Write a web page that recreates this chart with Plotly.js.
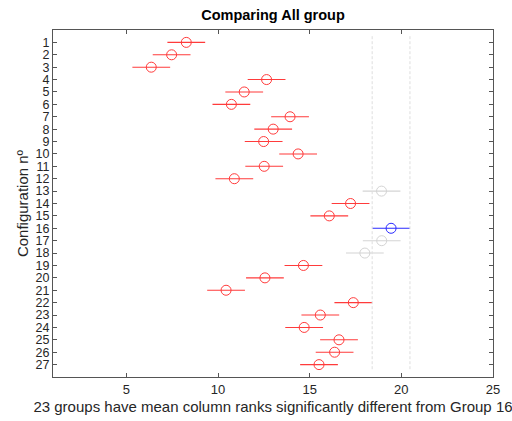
<!DOCTYPE html>
<html><head><meta charset="utf-8">
<script src="https://cdn.plot.ly/plotly-3.0.1.min.js"></script>
<style>html,body{margin:0;padding:0;background:#fff}#chart{width:512px;height:421px}</style>
</head><body><div id="chart"></div>
<script>
const groups = [1,2,3,4,5,6,7,8,9,10,11,12,13,14,15,16,17,18,19,20,21,22,23,24,25,26,27];
const meanRanks = [8.27,7.47,6.36,12.65,11.43,10.73,13.93,13.01,12.49,14.37,12.52,10.89,18.92,17.23,16.07,19.44,18.93,18.01,14.66,12.56,10.44,17.38,15.58,14.70,16.60,16.36,15.51];
const halfWidth = 1.03;
const refGroup = 16;
const notSignificant = [13,17,18];

const red = {x:[],y:[]}, gray = {x:[],y:[]}, blue = {x:[],y:[]};
groups.forEach((g,i)=>{
  let t = g===refGroup ? blue : (notSignificant.includes(g) ? gray : red);
  t.x.push(meanRanks[i]); t.y.push(g);
});
function mk(d,color){
  return {x:d.x,y:d.y,type:'scatter',mode:'markers',
    marker:{symbol:'circle-open',size:10,color:color,line:{width:1,color:color}},
    error_x:{type:'constant',value:halfWidth,width:0,thickness:1.1,color:color},
    hoverinfo:'x+y',showlegend:false};
}
const refMean = meanRanks[groups.indexOf(refGroup)];
const lo = refMean-halfWidth, hi = refMean+halfWidth;
const shapes = [lo,hi].map(v=>({type:'line',xref:'x',yref:'y',x0:v,x1:v,y0:0.5,y1:groups.length+0.5,
  line:{color:'#dedede',width:1,dash:'3px,2px'}}));

const axisCol = '#555555';
const layout = {
  width:512,height:421,
  margin:{l:53,r:19,t:30,b:44},
  paper_bgcolor:'#fff',plot_bgcolor:'#fff',
  font:{family:'Liberation Sans, Arial, sans-serif',size:13,color:'#262626'},
  title:{text:'<b>Comparing All group</b>',xref:'paper',x:0.5,xanchor:'center',y:0.977,yanchor:'top',font:{size:14.5,color:'#000'}},
  xaxis:{range:[1,25],tickvals:[5,10,15,20,25],ticks:'inside',ticklen:4,tickcolor:axisCol,
    showline:true,linecolor:axisCol,linewidth:1,mirror:'ticks',showgrid:false,zeroline:false,
    tickfont:{size:13,color:'#262626'},
    title:{text:'23 groups have mean column ranks significantly different from Group 16',font:{size:15,color:'#262626'},standoff:5}},
  yaxis:{range:[28,0],tickvals:groups,ticktext:groups.map(String),ticks:'inside',ticklen:4,tickcolor:axisCol,
    showline:true,linecolor:axisCol,linewidth:1,mirror:'ticks',showgrid:false,zeroline:false,
    tickfont:{size:12.5,color:'#262626'},
    title:{text:'Configuration nº',font:{size:15,color:'#262626'},standoff:3}},
  shapes:shapes
};
Plotly.newPlot('chart',[mk(red,'#ff3b3b'),mk(gray,'#d4d4d4'),mk(blue,'#2a2aff')],layout,{displayModeBar:false,staticPlot:true});
</script></body></html>
